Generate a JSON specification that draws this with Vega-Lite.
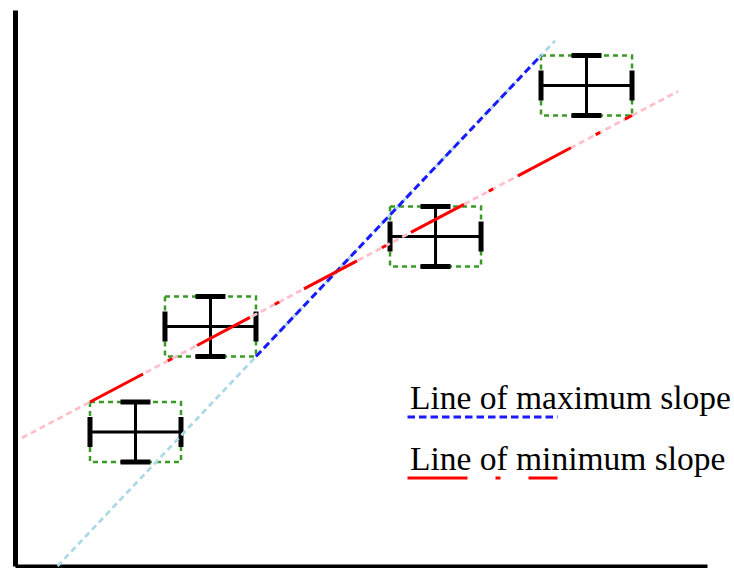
{
  "$schema": "https://vega.github.io/schema/vega-lite/v6.json",
  "width": 692,
  "height": 556,
  "autosize": {"type": "none"},
  "padding": {"left": 15, "top": 10, "right": 27, "bottom": 2},
  "background": "white",
  "config": {
    "view": {"stroke": null},
    "legend": {
      "title": null,
      "symbolType": "stroke",
      "symbolSize": 22500,
      "symbolStrokeWidth": 3,
      "labelFont": "Liberation Serif",
      "labelFontSize": 33.5,
      "labelColor": "black",
      "labelOffset": -149,
      "labelBaseline": "line-bottom",
      "labelLineHeight": 40,
      "labelLimit": 1000,
      "clipHeight": 20,
      "rowPadding": 16,
      "padding": 0
    }
  },
  "datasets": {
    "points": [
      {"x": 1.324, "y": 1.34, "xmin": 0.824, "xmax": 1.824, "ymin": 1.04, "ymax": 1.64},
      {"x": 2.148, "y": 2.395, "xmin": 1.648, "xmax": 2.648, "ymin": 2.095, "ymax": 2.695},
      {"x": 4.621, "y": 3.295, "xmin": 4.121, "xmax": 5.121, "ymin": 2.995, "ymax": 3.595},
      {"x": 6.28, "y": 4.805, "xmin": 5.78, "xmax": 6.78, "ymin": 4.505, "ymax": 5.105}
    ],
    "lines": [
      {"line": "Line of maximum slope", "x": 2.648, "y": 2.095},
      {"line": "Line of maximum slope", "x": 5.78, "y": 5.105},
      {"line": "Line of minimum slope", "x": 0.824, "y": 1.64},
      {"line": "Line of minimum slope", "x": 6.78, "y": 4.505}
    ],
    "extensions": [
      {"ext": "max", "x": 0.468, "y": 0},
      {"ext": "max", "x": 5.934, "y": 5.253},
      {"ext": "min", "x": 0.077, "y": 1.281},
      {"ext": "min", "x": 7.286, "y": 4.748}
    ]
  },
  "encoding": {
    "x": {
      "field": "x", "type": "quantitative",
      "scale": {"domain": [0, 7.604], "nice": false, "zero": false},
      "axis": {"domain": true, "domainColor": "black", "domainWidth": 4, "ticks": false, "labels": false, "grid": false, "title": null}
    },
    "y": {
      "field": "y", "type": "quantitative",
      "scale": {"domain": [0, 5.56], "nice": false, "zero": false},
      "axis": {"domain": true, "domainColor": "black", "domainWidth": 5, "ticks": false, "labels": false, "grid": false, "title": null}
    }
  },
  "layer": [
    {
      "data": {"name": "points"},
      "mark": {"type": "rect", "fill": "transparent", "stroke": "#3a9a26", "strokeWidth": 2.5, "strokeDash": [5, 4]},
      "encoding": {
        "x": {"field": "xmin", "type": "quantitative"},
        "x2": {"field": "xmax"},
        "y": {"field": "ymin", "type": "quantitative"},
        "y2": {"field": "ymax"}
      }
    },
    {
      "data": {"name": "points"},
      "mark": {"type": "rule", "color": "black", "strokeWidth": 3},
      "encoding": {
        "x": {"field": "x", "type": "quantitative"},
        "y": {"field": "ymin", "type": "quantitative"},
        "y2": {"field": "ymax"}
      }
    },
    {
      "data": {"name": "points"},
      "mark": {"type": "rule", "color": "black", "strokeWidth": 3},
      "encoding": {
        "y": {"field": "y", "type": "quantitative"},
        "x": {"field": "xmin", "type": "quantitative"},
        "x2": {"field": "xmax"}
      }
    },
    {
      "data": {"name": "points"},
      "mark": {"type": "tick", "orient": "horizontal", "color": "black", "size": 30, "thickness": 5, "opacity": 1},
      "encoding": {"x": {"field": "x", "type": "quantitative"}, "y": {"field": "ymin", "type": "quantitative"}}
    },
    {
      "data": {"name": "points"},
      "mark": {"type": "tick", "orient": "horizontal", "color": "black", "size": 30, "thickness": 5, "opacity": 1},
      "encoding": {"x": {"field": "x", "type": "quantitative"}, "y": {"field": "ymax", "type": "quantitative"}}
    },
    {
      "data": {"name": "points"},
      "mark": {"type": "tick", "orient": "vertical", "color": "black", "size": 30, "thickness": 5, "opacity": 1},
      "encoding": {"x": {"field": "xmin", "type": "quantitative"}, "y": {"field": "y", "type": "quantitative"}}
    },
    {
      "data": {"name": "points"},
      "mark": {"type": "tick", "orient": "vertical", "color": "black", "size": 30, "thickness": 5, "opacity": 1},
      "encoding": {"x": {"field": "xmax", "type": "quantitative"}, "y": {"field": "y", "type": "quantitative"}}
    },
    {
      "data": {"name": "extensions"},
      "transform": [{"filter": "datum.ext == 'max'"}],
      "mark": {"type": "line", "color": "#add8e6", "strokeWidth": 2.8, "strokeDash": [6, 4]},
      "encoding": {}
    },
    {
      "data": {"name": "extensions"},
      "transform": [{"filter": "datum.ext == 'min'"}],
      "mark": {"type": "line", "color": "#ffc0cb", "strokeWidth": 2.8, "strokeDash": [6, 4]},
      "encoding": {}
    },
    {
      "data": {"name": "lines"},
      "mark": {"type": "line", "strokeWidth": 3},
      "encoding": {
        "color": {
          "field": "line", "type": "nominal",
          "scale": {"domain": ["Line of maximum slope", "Line of minimum slope"], "range": ["#1a1aff", "#ff0000"]},
          "legend": {"orient": "none", "legendX": 391, "legendY": 397}
        },
        "strokeDash": {
          "field": "line", "type": "nominal",
          "scale": {"domain": ["Line of maximum slope", "Line of minimum slope"], "range": [[7.5, 4], [60, 28, 5, 28]]},
          "legend": {"orient": "none", "legendX": 391, "legendY": 397}
        }
      }
    }
  ]
}
